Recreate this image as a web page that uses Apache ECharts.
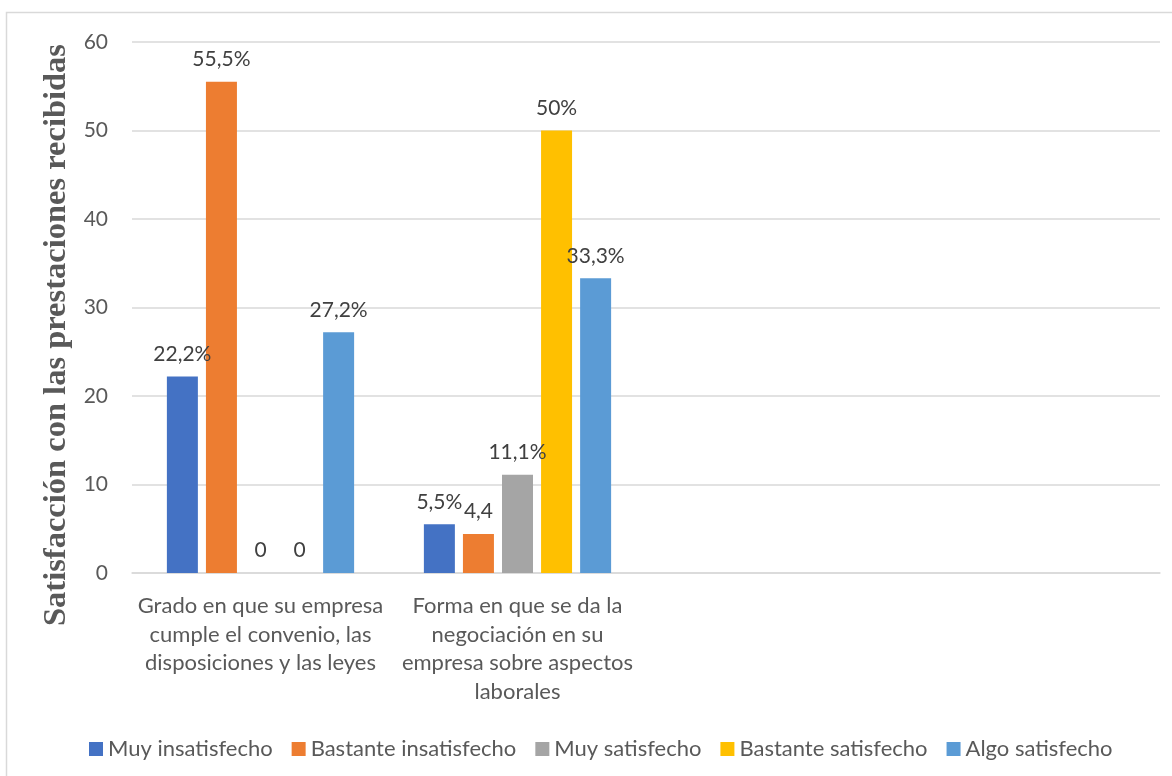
<!DOCTYPE html>
<html>
<head>
<meta charset="utf-8">
<script src="https://cdn.jsdelivr.net/npm/echarts@6/dist/echarts.min.js"></script>
<style>
html,body{margin:0;padding:0;background:#fff;}
#chart{width:1172px;height:776px;}
</style>
</head>
<body>
<div id="chart"></div>
<script>
const categories = [
  'Grado en que su empresa\ncumple el convenio, las\ndisposiciones y las leyes',
  'Forma en que se da la\nnegociación en su\nempresa sobre aspectos\nlaborales',
  '',
  ''
];
const seriesNames = ['Muy insatisfecho','Bastante insatisfecho','Muy satisfecho','Bastante satisfecho','Algo satisfecho'];
const muyInsatisfecho = [22.2, 5.5, null, null];
const bastanteInsatisfecho = [55.5, 4.4, null, null];
const muySatisfecho = [0, 11.1, null, null];
const bastanteSatisfecho = [0, 50, null, null];
const algoSatisfecho = [27.2, 33.3, null, null];
const labelsMuyInsatisfecho = ['22,2%', '5,5%', '', ''];
const labelsBastanteInsatisfecho = ['55,5%', '4,4', '', ''];
const labelsMuySatisfecho = ['0', '11,1%', '', ''];
const labelsBastanteSatisfecho = ['0', '50%', '', ''];
const labelsAlgoSatisfecho = ['27,2%', '33,3%', '', ''];
const yTicks = [0, 10, 20, 30, 40, 50, 60];
const yTitle = 'Satisfacción con las prestaciones recibidas';
const colors = ['#4472C4','#ED7D31','#A5A5A5','#FFC000','#5B9BD5'];

const values = [muyInsatisfecho, bastanteInsatisfecho, muySatisfecho, bastanteSatisfecho, algoSatisfecho];
const labels = [labelsMuyInsatisfecho, labelsBastanteInsatisfecho, labelsMuySatisfecho, labelsBastanteSatisfecho, labelsAlgoSatisfecho];

const chart = echarts.init(document.getElementById('chart'));
const option = {
  animation: false,
  color: colors,
  textStyle: { fontFamily: 'Lato' },
  graphic: [{
    type: 'rect', silent: true, z: -1,
    shape: { x: 6.5, y: 12.5, width: 1200, height: 800 },
    style: { fill: 'none', stroke: '#D9D9D9', lineWidth: 1.5 }
  }],
  grid: { left: 132, right: 12, top: 42, bottom: 203, containLabel: false },
  legend: {
    left: 84, top: 733,
    itemWidth: 14, itemHeight: 14, itemGap: 19,
    icon: 'rect',
    textStyle: { fontFamily: 'Lato', fontSize: 22, color: '#595959' },
    data: seriesNames
  },
  xAxis: {
    type: 'category',
    data: categories,
    axisLine: { lineStyle: { color: '#D9D9D9', width: 1.5 } },
    axisTick: { show: false },
    axisLabel: { interval: 0, color: '#595959', fontSize: 22, lineHeight: 28.5, margin: 19, fontFamily: 'Lato' }
  },
  yAxis: {
    type: 'value',
    min: yTicks[0], max: yTicks[yTicks.length - 1], interval: 10,
    name: yTitle,
    nameLocation: 'middle',
    nameGap: 54,
    nameTextStyle: { fontFamily: 'Liberation Serif', fontWeight: 'bold', fontSize: 32.5, color: '#595959', padding: [0, 55, 0, 0] },
    axisLine: { show: false },
    axisTick: { show: false },
    axisLabel: { color: '#595959', fontSize: 21, margin: 24, fontFamily: 'Lato' },
    splitLine: { lineStyle: { color: '#D9D9D9', width: 1.5 } }
  },
  series: seriesNames.map((name, i) => ({
    name: name,
    type: 'bar',
    data: values[i],
    barWidth: 31,
    barGap: '26%',
    itemStyle: { color: colors[i] },
    label: {
      show: true,
      position: 'top',
      distance: 12,
      color: '#404040',
      fontSize: 21,
      fontFamily: 'Lato',
      formatter: p => labels[i][p.dataIndex]
    }
  }))
};
chart.setOption(option);
</script>
</body>
</html>
